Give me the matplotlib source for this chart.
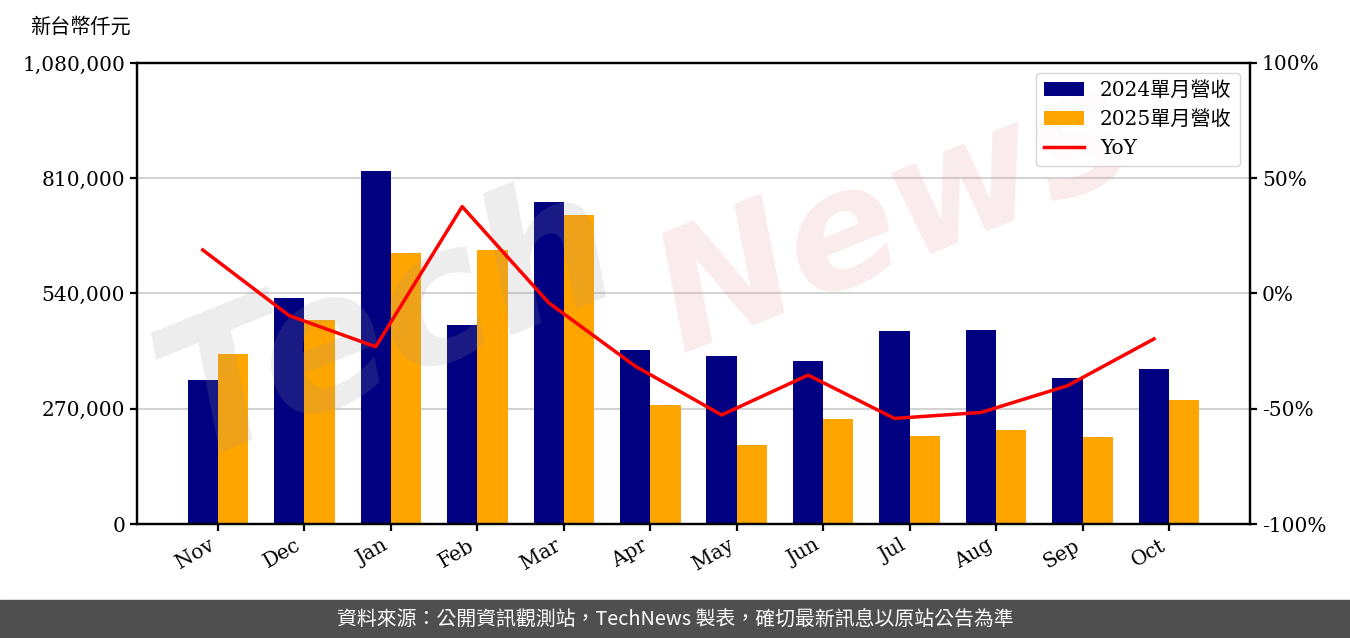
import numpy as np
import matplotlib
matplotlib.use("Agg")
import matplotlib.pyplot as plt
from matplotlib.ticker import FuncFormatter

plt.rcParams['font.family'] = ['DejaVu Serif', 'Noto Sans CJK TC']

months = ['Nov', 'Dec', 'Jan', 'Feb', 'Mar', 'Apr', 'May', 'Jun', 'Jul', 'Aug', 'Sep', 'Oct']
rev_2024 = [337350, 529450, 826970, 466200, 754340, 407630, 393580, 381860, 452140, 454480, 342030, 363120]
rev_2025 = [398260, 477900, 634870, 641900, 723890, 278780, 185070, 245980, 206160, 220210, 203820, 290490]
yoy = [18.9, -9.6, -23.1, 37.7, -4.0, -31.5, -52.7, -35.4, -54.2, -51.6, -40.0, -19.7]

x = np.arange(len(months))
w = 0.35

fig = plt.figure(figsize=(13.5, 6.38), dpi=100)
ax = fig.add_axes([137/1350, 1 - 524/638, (1250-137)/1350, (524-63)/638])

ax.bar(x - w/2, rev_2024, w, color='#000080', label='2024單月營收', zorder=2)
ax.bar(x + w/2, rev_2025, w, color='#ffa500', label='2025單月營收', zorder=2)
ax.set_ylim(0, 1080000)
ax.set_yticks(np.arange(0, 1080001, 270000))
ax.yaxis.set_major_formatter(FuncFormatter(lambda v, p: f'{int(v):,}'))
ax.grid(axis='y', color='#d3d3d3', linewidth=1.5, zorder=0)
ax.set_axisbelow(True)
ax.set_xticks(x)
ax.set_xticklabels(months, rotation=30, ha='right')

# watermark, between bars and the YoY line
ax.text(0.10, 0.28, 'Tech', fontsize=135, style='italic', fontweight='bold',
        color='#999999', alpha=0.18, rotation=22, family='DejaVu Sans',
        transform=fig.transFigure, zorder=3, clip_on=False)
ax.text(0.47, 0.45, 'News', fontsize=118, style='italic', fontweight='bold',
        color='#e8a0a0', alpha=0.2, rotation=22, family='DejaVu Sans',
        transform=fig.transFigure, zorder=3, clip_on=False)

ax2 = ax.twinx()
ax2.plot(x - w/2, yoy, color='red', linewidth=2.5, label='YoY')
ax2.set_ylim(-100, 100)
ax2.set_yticks([-100, -50, 0, 50, 100])
ax2.yaxis.set_major_formatter(FuncFormatter(lambda v, p: f'{int(v)}%'))

for a in (ax, ax2):
    for s in a.spines.values():
        s.set_linewidth(1.6)
    a.tick_params(labelsize=14.5, width=1.6, length=5)

h1, l1 = ax.get_legend_handles_labels()
h2, l2 = ax2.get_legend_handles_labels()
ax2.legend(h1 + h2, l1 + l2, loc='upper right', fontsize=14.5, edgecolor='#cccccc')

fig.text(30/1350, 1 - 27/638, '新台幣仟元', fontsize=14.5, va='center', ha='left')

# footer band
fig.patches.append(plt.Rectangle((0, 0), 1, 38/638, transform=fig.transFigure,
                                 color='#4f4f4f', zorder=0))
fig.text(0.5, 19/638, '資料來源：公開資訊觀測站，TechNews 製表，確切最新訊息以原站公告為準',
         color='white', fontsize=14.3, ha='center', va='center',
         family=['Noto Sans CJK TC', 'DejaVu Sans'])

fig.savefig('out.png', dpi=100)
